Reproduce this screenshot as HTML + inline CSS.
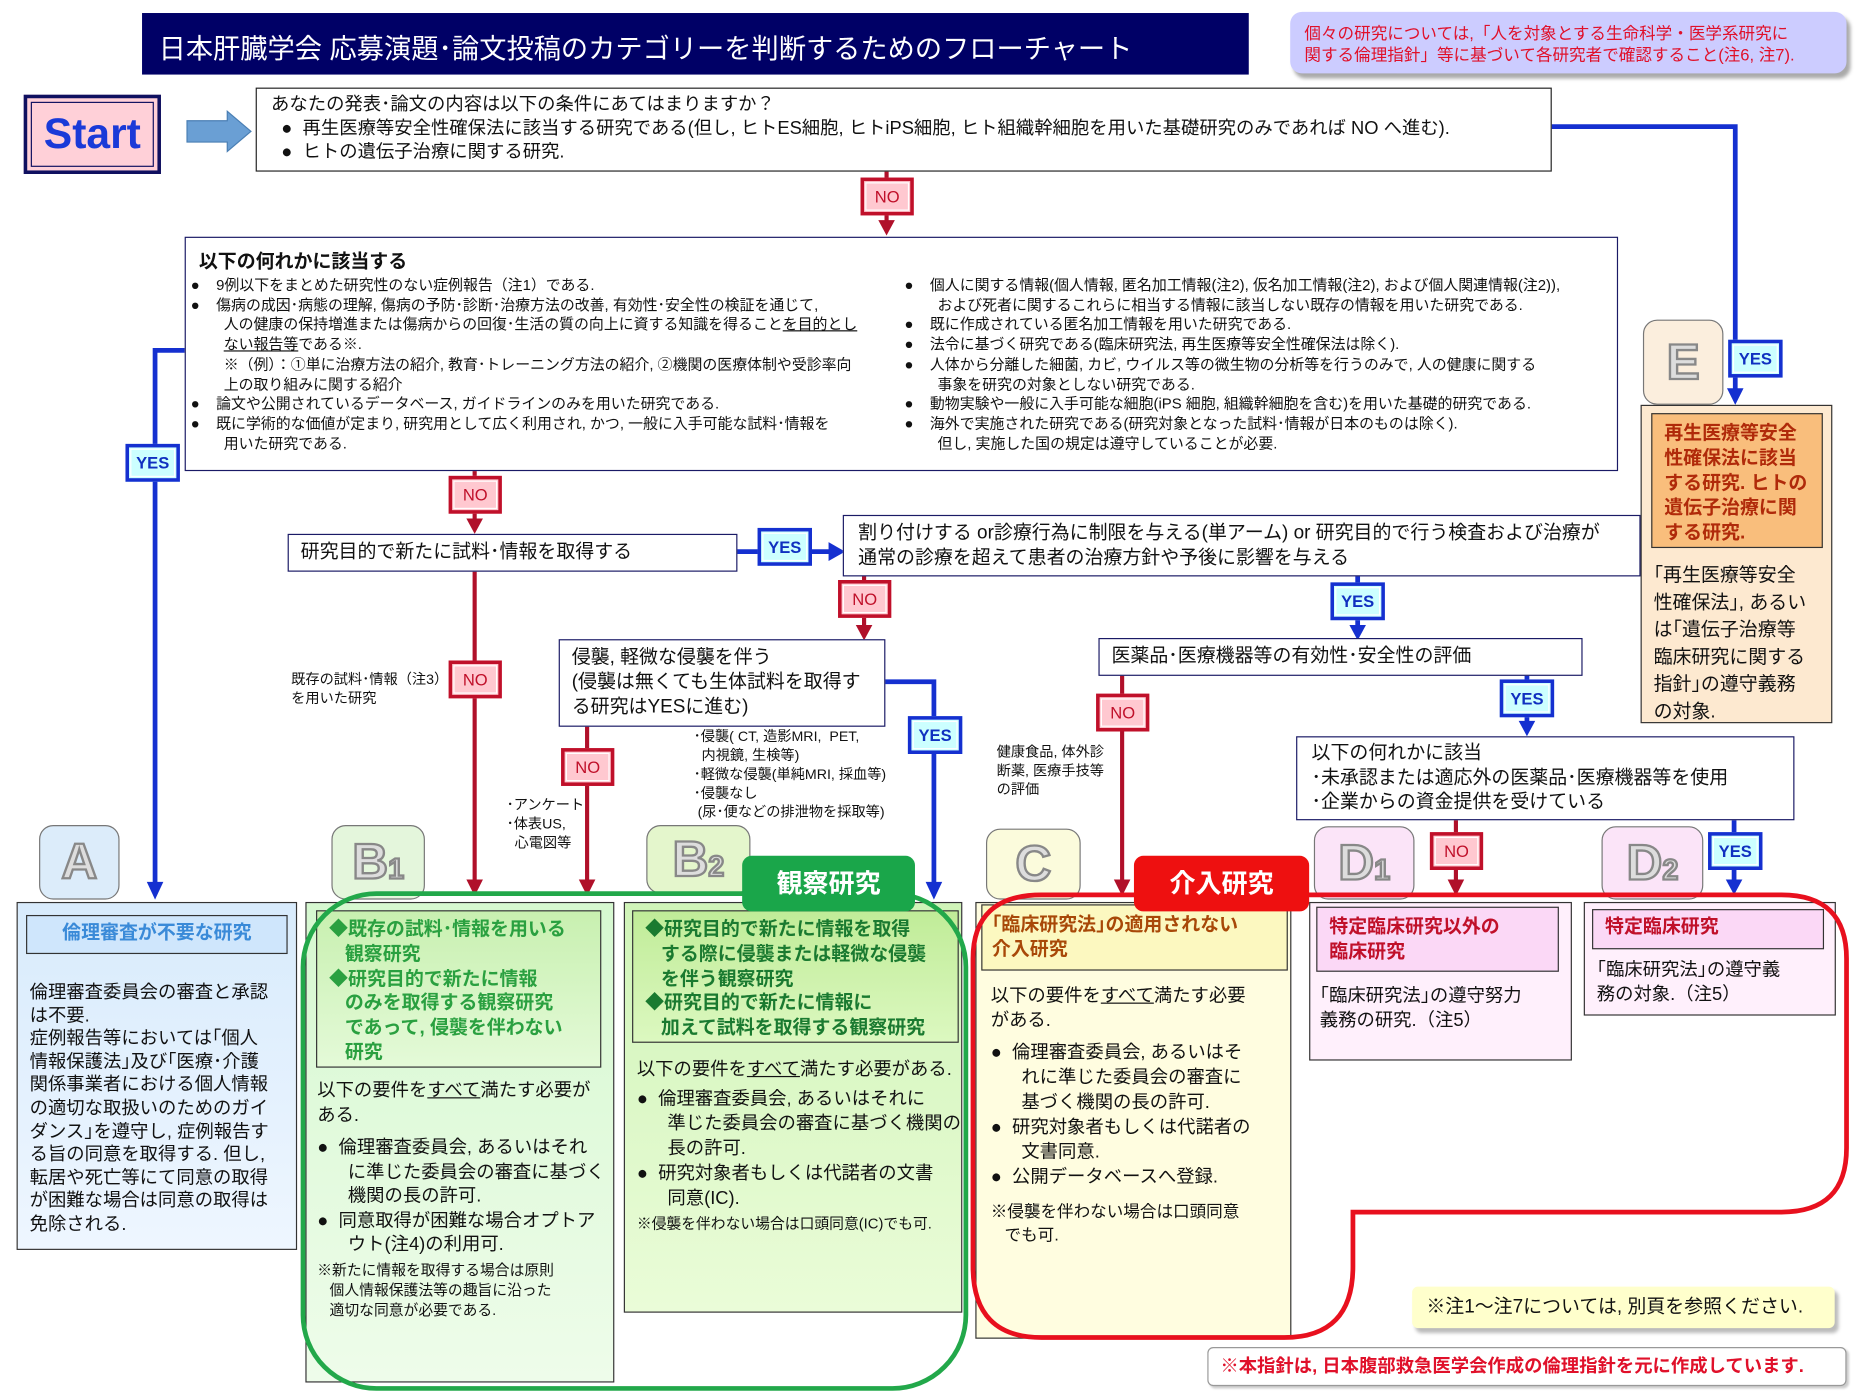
<!DOCTYPE html>
<html><head><meta charset="utf-8">
<style>
*{margin:0;padding:0;box-sizing:border-box}
html,body{width:1856px;height:1396px;overflow:hidden;background:#fff}
#w{position:absolute;left:0;top:0;width:1568px;height:1180px;transform:scale(1.18367);transform-origin:0 0;font-family:"Liberation Sans","Noto Sans CJK JP",sans-serif;color:#111}
.a{position:absolute}
.bx{position:absolute;border:1.5px solid #1a1a66;background:#fff}
.nw{white-space:nowrap}
.yes{position:absolute;width:46px;height:32px;border:3px solid #1530d0;background:#ccffff;color:#1030c0;font-weight:bold;font-size:14px;text-align:center;line-height:26px;outline:1px solid #fff;outline-offset:-5px}
.no{position:absolute;width:45px;height:32px;border:3px solid #c0102a;background:#ffc8d0;color:#c0102a;font-size:14px;text-align:center;line-height:26px;outline:1px solid #fff;outline-offset:-5px}
.let{position:absolute;border:1.5px solid #777;border-radius:12px;font-size:42px;font-weight:bold;color:#ddd;text-align:center;-webkit-text-stroke:2px #888;font-family:"Liberation Sans",sans-serif}
.t13{font-size:12.6px;line-height:16.7px}
.t16{font-size:16px;line-height:20.5px}
u{text-decoration:underline}
</style></head><body><div id="w">

<svg class="a" style="left:0;top:0" width="1568" height="1180">
<g fill="none" stroke="#1530d0" stroke-width="4">
<polyline points="1310,107 1466,107 1466,330"/>
<polyline points="156,296 131,296 131,748"/>
<polyline points="622,466 702,466"/>
<polyline points="747,576 789,576 789,748"/>
<polyline points="1147,486 1147,532"/>
<polyline points="1290,570 1290,612"/>
<polyline points="1465,692 1465,746"/>
</g>
<g fill="#1530d0">
<path d="M1459,328 L1473,328 L1466,342z"/>
<path d="M124,745 L138,745 L131,760z"/>
<path d="M700,458 L700,474 L714,466z"/>
<path d="M782,745 L796,745 L789,760z"/>
<path d="M1140,528 L1154,528 L1147,541z"/>
<path d="M1283,609 L1297,609 L1290,622z"/>
<path d="M1458,743 L1472,743 L1465,756z"/>
</g>
<g fill="none" stroke="#b0102a" stroke-width="3.5">
<line x1="749" y1="144" x2="749" y2="188"/>
<line x1="401" y1="397" x2="401" y2="440"/>
<line x1="401" y1="482" x2="401" y2="745"/>
<line x1="730" y1="486" x2="730" y2="530"/>
<line x1="496" y1="613" x2="496" y2="745"/>
<line x1="948" y1="570" x2="948" y2="745"/>
<line x1="1230" y1="692" x2="1230" y2="745"/>
</g>
<g fill="#b0102a">
<path d="M742,186 L756,186 L749,199z"/>
<path d="M394,438 L408,438 L401,451z"/>
<path d="M394,743 L408,743 L401,757z"/>
<path d="M723,528 L737,528 L730,541z"/>
<path d="M489,743 L503,743 L496,757z"/>
<path d="M941,743 L955,743 L948,757z"/>
<path d="M1223,743 L1237,743 L1230,757z"/>
</g>
<path d="M158,102 L192,102 L192,94 L212,111 L192,128 L192,120 L158,120z" fill="#6a9fd4" stroke="#4a7fb4"/>
</svg>

<div class="a nw" style="left:120px;top:11px;width:935px;height:52px;background:#000066;color:#fff;font-size:23px;padding:17px 0 0 14px;line-height:26px">日本肝臓学会 応募演題･論文投稿のカテゴリーを判断するためのフローチャート</div>
<div class="a nw" style="left:1090px;top:10px;width:470px;height:52px;background:#ccccff;border-radius:10px;box-shadow:3px 4px 3px #aaa;color:#e0102a;font-size:14px;line-height:18px;padding:9px 0 0 12px">個々の研究については,「人を対象とする生命科学・医学系研究に<br>関する倫理指針」等に基づいて各研究者で確認すること(注6, 注7).</div>

<div class="a" style="left:20px;top:80px;width:116px;height:67px;border:3px solid #101060;background:#ffd0d8;outline:1px solid #101060;outline-offset:-7px;color:#1a3ad8;font-weight:bold;font-size:36px;text-align:center;line-height:60px;font-family:'Liberation Sans',sans-serif">Start</div>

<div class="bx nw" style="left:216px;top:74px;width:1095px;height:71px;border-color:#222;font-size:15.5px;line-height:20px;padding:4px 0 0 12px">あなたの発表･論文の内容は以下の条件にあてはまりますか？<br>&nbsp;&nbsp;●&nbsp; 再生医療等安全性確保法に該当する研究である(但し, ヒトES細胞, ヒトiPS細胞, ヒト組織幹細胞を用いた基礎研究のみであれば NO へ進む).<br>&nbsp;&nbsp;●&nbsp; ヒトの遺伝子治療に関する研究.</div>
<div class="no" style="left:727px;top:150px">NO</div>

<div class="bx" style="left:156px;top:200px;width:1211px;height:198px">
<div class="a nw" style="left:11px;top:6px;font-size:16px;font-weight:bold">以下の何れかに該当する</div>
<div class="a nw t13" style="left:4px;top:32px">●&nbsp;&nbsp;&nbsp; 9例以下をまとめた研究性のない症例報告（注1）である.<br>●&nbsp;&nbsp;&nbsp; 傷病の成因･病態の理解, 傷病の予防･診断･治療方法の改善, 有効性･安全性の検証を通じて,<br>&nbsp;&nbsp;&nbsp;&nbsp;&nbsp;&nbsp;&nbsp; 人の健康の保持増進または傷病からの回復･生活の質の向上に資する知識を得ること<u>を目的とし</u><br>&nbsp;&nbsp;&nbsp;&nbsp;&nbsp;&nbsp;&nbsp; <u>ない報告等</u>である※.<br>&nbsp;&nbsp;&nbsp;&nbsp;&nbsp;&nbsp;&nbsp; ※（例）：①単に治療方法の紹介, 教育･トレーニング方法の紹介, ②機関の医療体制や受診率向<br>&nbsp;&nbsp;&nbsp;&nbsp;&nbsp;&nbsp;&nbsp; 上の取り組みに関する紹介<br>●&nbsp;&nbsp;&nbsp; 論文や公開されているデータベース, ガイドラインのみを用いた研究である.<br>●&nbsp;&nbsp;&nbsp; 既に学術的な価値が定まり, 研究用として広く利用され, かつ, 一般に入手可能な試料･情報を<br>&nbsp;&nbsp;&nbsp;&nbsp;&nbsp;&nbsp;&nbsp; 用いた研究である.</div>
<div class="a nw t13" style="left:607px;top:32px">●&nbsp;&nbsp;&nbsp; 個人に関する情報(個人情報, 匿名加工情報(注2), 仮名加工情報(注2), および個人関連情報(注2)),<br>&nbsp;&nbsp;&nbsp;&nbsp;&nbsp;&nbsp;&nbsp; および死者に関するこれらに相当する情報に該当しない既存の情報を用いた研究である.<br>●&nbsp;&nbsp;&nbsp; 既に作成されている匿名加工情報を用いた研究である.<br>●&nbsp;&nbsp;&nbsp; 法令に基づく研究である(臨床研究法, 再生医療等安全性確保法は除く).<br>●&nbsp;&nbsp;&nbsp; 人体から分離した細菌, カビ, ウイルス等の微生物の分析等を行うのみで, 人の健康に関する<br>&nbsp;&nbsp;&nbsp;&nbsp;&nbsp;&nbsp;&nbsp; 事象を研究の対象としない研究である.<br>●&nbsp;&nbsp;&nbsp; 動物実験や一般に入手可能な細胞(iPS 細胞, 組織幹細胞を含む)を用いた基礎的研究である.<br>●&nbsp;&nbsp;&nbsp; 海外で実施された研究である(研究対象となった試料･情報が日本のものは除く).<br>&nbsp;&nbsp;&nbsp;&nbsp;&nbsp;&nbsp;&nbsp; 但し, 実施した国の規定は遵守していることが必要.</div>
</div>
<div class="yes" style="left:106px;top:375px">YES</div>
<div class="no" style="left:379px;top:402px">NO</div>

<div class="bx nw t16" style="left:243px;top:451px;width:380px;height:32px;padding:5px 0 0 10px">研究目的で新たに試料･情報を取得する</div>
<div class="yes" style="left:640px;top:446px">YES</div>
<div class="bx nw t16" style="left:712px;top:435px;width:674px;height:52px;padding:4px 0 0 12px;line-height:21px">割り付けする or診療行為に制限を与える(単アーム) or 研究目的で行う検査および治療が<br>通常の診療を超えて患者の治療方針や予後に影響を与える</div>
<div class="no" style="left:708px;top:490px">NO</div>
<div class="yes" style="left:1124px;top:492px">YES</div>

<div class="a nw" style="left:246px;top:566px;font-size:12px;line-height:16px">既存の試料･情報（注3）<br>を用いた研究</div>
<div class="no" style="left:379px;top:558px">NO</div>

<div class="bx nw t16" style="left:472px;top:540px;width:276px;height:74px;padding:4px 0 0 10px;line-height:21px">侵襲, 軽微な侵襲を伴う<br>(侵襲は無くても生体試料を取得す<br>る研究はYESに進む)</div>
<div class="no" style="left:474px;top:632px">NO</div>
<div class="yes" style="left:767px;top:605px">YES</div>
<div class="a nw" style="left:428px;top:672px;font-size:12px;line-height:16px">･アンケート<br>･体表US,<br>&nbsp;&nbsp;心電図等</div>
<div class="a nw" style="left:586px;top:614px;font-size:12px;line-height:16px">･侵襲( CT, 造影MRI,&nbsp; PET,<br>&nbsp;&nbsp;内視鏡, 生検等)<br>･軽微な侵襲(単純MRI, 採血等)<br>･侵襲なし<br>&nbsp;(尿･便などの排泄物を採取等)</div>

<div class="bx nw t16" style="left:928px;top:539px;width:409px;height:32px;padding:5px 0 0 10px">医薬品･医療機器等の有効性･安全性の評価</div>
<div class="no" style="left:926px;top:586px">NO</div>
<div class="a nw" style="left:842px;top:627px;font-size:12px;line-height:16px">健康食品, 体外診<br>断薬, 医療手技等<br>の評価</div>
<div class="yes" style="left:1267px;top:574px">YES</div>
<div class="bx nw t16" style="left:1095px;top:622px;width:421px;height:71px;padding:4px 0 0 12px;line-height:20.5px">以下の何れかに該当<br>･未承認または適応外の医薬品･医療機器等を使用<br>･企業からの資金提供を受けている</div>
<div class="no" style="left:1208px;top:703px">NO</div>
<div class="yes" style="left:1443px;top:703px">YES</div>

<div class="let" style="left:1388px;top:270px;width:68px;height:72px;background:#fbeedd;line-height:70px">E</div>
<div class="yes" style="left:1460px;top:287px">YES</div>
<div class="a" style="left:1386px;top:342px;width:162px;height:269px;background:#fde9d0;border:1.5px solid #333">
<div class="a nw" style="left:8px;top:6px;width:145px;height:114px;background:#f9be7c;border:1.5px solid #333;color:#b02a0a;font-weight:bold;font-size:16px;line-height:21px;padding:6px 0 0 10px">再生医療等安全<br>性確保法に該当<br>する研究. ヒトの<br>遺伝子治療に関<br>する研究.</div>
<div class="a nw t16" style="left:10px;top:132px;line-height:23px">｢再生医療等安全<br>性確保法｣, あるい<br>は｢遺伝子治療等<br>臨床研究に関する<br>指針｣の遵守義務<br>の対象.</div>
</div>

<div class="let" style="left:33px;top:697px;width:68px;height:63px;background:#dcecfa;line-height:60px">A</div>
<div class="let" style="left:280px;top:697px;width:79px;height:63px;background:#e4f6dc;line-height:60px">B<span style="font-size:24px">1</span></div>
<div class="let" style="left:546px;top:697px;width:88px;height:58px;background:#e4f6cc;line-height:56px">B<span style="font-size:24px">2</span></div>
<div class="let" style="left:833px;top:700px;width:80px;height:60px;background:#fbfbdc;line-height:58px">C</div>
<div class="let" style="left:1110px;top:698px;width:85px;height:62px;background:#fbe4f8;line-height:60px">D<span style="font-size:24px">1</span></div>
<div class="let" style="left:1353px;top:698px;width:86px;height:62px;background:#fbe4f8;line-height:60px">D<span style="font-size:24px">2</span></div>

<div class="a" style="left:14px;top:762px;width:237px;height:294px;background:linear-gradient(#d8ebfc,#eef6ff);border:1.5px solid #333">
<div class="a nw" style="left:7px;top:10px;width:221px;height:33px;border:1.5px solid #333;background:#cfe6fc;color:#3a8ad8;font-weight:bold;font-size:16px;text-align:center;line-height:30px">倫理審査が不要な研究</div>
<div class="a nw" style="left:10px;top:66px;font-size:15.5px;line-height:19.6px">倫理審査委員会の審査と承認<br>は不要.<br>症例報告等においては｢個人<br>情報保護法｣及び｢医療･介護<br>関係事業者における個人情報<br>の適切な取扱いのためのガイ<br>ダンス｣を遵守し, 症例報告す<br>る旨の同意を取得する. 但し,<br>転居や死亡等にて同意の取得<br>が困難な場合は同意の取得は<br>免除される.</div>
</div>

<div class="a" style="left:258px;top:762px;width:261px;height:406px;background:linear-gradient(#d6f8d0,#eefcea);border:1.5px solid #333">
<div class="a nw" style="left:8px;top:6px;width:241px;height:133px;border:1.5px solid #333;background:linear-gradient(#c8f0b0,#e4fad8);color:#2aa040;font-weight:bold;font-size:16px;line-height:20.8px;padding:6px 0 0 10px">◆既存の試料･情報を用いる<br>&nbsp;&nbsp;&nbsp;観察研究<br>◆研究目的で新たに情報<br>&nbsp;&nbsp;&nbsp;のみを取得する観察研究<br>&nbsp;&nbsp;&nbsp;であって, 侵襲を伴わない<br>&nbsp;&nbsp;&nbsp;研究</div>
<div class="a nw" style="left:9px;top:148px;font-size:15.5px;line-height:21px">以下の要件を<u>すべて</u>満たす必要が<br>ある.</div>
<div class="a nw" style="left:9px;top:197px;font-size:15.5px;line-height:20.5px">●&nbsp; 倫理審査委員会, あるいはそれ<br>&nbsp;&nbsp;&nbsp;&nbsp;&nbsp; に準じた委員会の審査に基づく<br>&nbsp;&nbsp;&nbsp;&nbsp;&nbsp; 機関の長の許可.<br>●&nbsp; 同意取得が困難な場合オプトア<br>&nbsp;&nbsp;&nbsp;&nbsp;&nbsp; ウト(注4)の利用可.</div>
<div class="a nw" style="left:9px;top:302px;font-size:12.5px;line-height:17px">※新たに情報を取得する場合は原則<br>&nbsp;&nbsp;&nbsp;個人情報保護法等の趣旨に沿った<br>&nbsp;&nbsp;&nbsp;適切な同意が必要である.</div>
</div>

<div class="a" style="left:527px;top:762px;width:286px;height:347px;background:linear-gradient(#d0f4b8,#eafcd8);border:1.5px solid #333">
<div class="a nw" style="left:6px;top:6px;width:276px;height:112px;border:1.5px solid #333;background:linear-gradient(#c0ec98,#dcf8c0);color:#1a7a30;font-weight:bold;font-size:16px;line-height:20.8px;padding:6px 0 0 10px">◆研究目的で新たに情報を取得<br>&nbsp;&nbsp;&nbsp;する際に侵襲または軽微な侵襲<br>&nbsp;&nbsp;&nbsp;を伴う観察研究<br>◆研究目的で新たに情報に<br>&nbsp;&nbsp;&nbsp;加えて試料を取得する観察研究</div>
<div class="a nw" style="left:10px;top:128px;font-size:15.5px">以下の要件を<u>すべて</u>満たす必要がある.</div>
<div class="a nw" style="left:10px;top:155px;font-size:15.5px;line-height:21px">●&nbsp; 倫理審査委員会, あるいはそれに<br>&nbsp;&nbsp;&nbsp;&nbsp;&nbsp; 準じた委員会の審査に基づく機関の<br>&nbsp;&nbsp;&nbsp;&nbsp;&nbsp; 長の許可.<br>●&nbsp; 研究対象者もしくは代諾者の文書<br>&nbsp;&nbsp;&nbsp;&nbsp;&nbsp; 同意(IC).</div>
<div class="a nw" style="left:10px;top:260px;font-size:12.5px">※侵襲を伴わない場合は口頭同意(IC)でも可.</div>
</div>

<div class="a" style="left:824px;top:762px;width:267px;height:369px;background:#fffde0;border:1.5px solid #333">
<div class="a nw" style="left:4px;top:1px;width:259px;height:56px;border:1.5px solid #333;background:#fcf8c0;color:#a84808;font-weight:bold;font-size:16px;line-height:21px;padding:6px 0 0 8px">｢臨床研究法｣の適用されない<br>介入研究</div>
<div class="a nw" style="left:12px;top:68px;font-size:15.5px;line-height:21px">以下の要件を<u>すべて</u>満たす必要<br>がある.</div>
<div class="a nw" style="left:12px;top:116px;font-size:15.5px;line-height:21px">●&nbsp; 倫理審査委員会, あるいはそ<br>&nbsp;&nbsp;&nbsp;&nbsp;&nbsp; れに準じた委員会の審査に<br>&nbsp;&nbsp;&nbsp;&nbsp;&nbsp; 基づく機関の長の許可.<br>●&nbsp; 研究対象者もしくは代諾者の<br>&nbsp;&nbsp;&nbsp;&nbsp;&nbsp; 文書同意.<br>●&nbsp; 公開データベースへ登録.</div>
<div class="a nw" style="left:12px;top:250px;font-size:14px;line-height:20px">※侵襲を伴わない場合は口頭同意<br>&nbsp;&nbsp;&nbsp;でも可.</div>
</div>

<div class="a" style="left:1106px;top:762px;width:222px;height:134px;background:#fff0fc;border:1.5px solid #333">
<div class="a nw" style="left:5px;top:3px;width:205px;height:55px;border:1.5px solid #333;background:#fbd8f6;color:#c0102a;font-weight:bold;font-size:16px;line-height:21px;padding:6px 0 0 10px">特定臨床研究以外の<br>臨床研究</div>
<div class="a nw" style="left:8px;top:68px;font-size:15.5px;line-height:21px">｢臨床研究法｣の遵守努力<br>義務の研究.（注5）</div>
</div>
<div class="a" style="left:1338px;top:762px;width:213px;height:96px;background:#fff0fc;border:1.5px solid #333">
<div class="a nw" style="left:6px;top:5px;width:196px;height:34px;border:1.5px solid #333;background:#fbd8f6;color:#c0102a;font-weight:bold;font-size:16px;line-height:30px;padding-left:10px">特定臨床研究</div>
<div class="a nw" style="left:10px;top:46px;font-size:15.5px;line-height:21px">｢臨床研究法｣の遵守義<br>務の対象.（注5）</div>
</div>

<svg class="a" style="left:0;top:0" width="1568" height="1180">
<rect x="256" y="755" width="560" height="418" rx="62" fill="none" stroke="#22a84a" stroke-width="4"/>
<path d="M960,756 L1505,756 Q1560,756 1560,810 L1560,970 Q1560,1024 1505,1024 L1143,1024 L1143,1070 Q1143,1130 1085,1130 L880,1130 Q822,1130 822,1070 L822,810 Q822,756 880,756 Z" fill="none" stroke="#e8101e" stroke-width="4"/>
</svg>
<div class="a nw" style="left:627px;top:723px;width:146px;height:47px;background:#1aa64a;border-radius:8px;color:#fff;font-weight:bold;font-size:22px;text-align:center;line-height:47px">観察研究</div>
<div class="a nw" style="left:958px;top:723px;width:148px;height:47px;background:#ee1010;border-radius:8px;color:#fff;font-weight:bold;font-size:22px;text-align:center;line-height:47px">介入研究</div>

<div class="a nw" style="left:1193px;top:1087px;width:357px;height:35px;background:#ffffcc;border-radius:5px;box-shadow:3px 4px 3px #bbb;font-size:16px;line-height:35px;padding-left:12px">※注1～注7については, 別頁を参照ください.</div>
<div class="a nw" style="left:1020px;top:1138px;width:540px;height:33px;background:#fff;border:1.5px solid #999;border-radius:5px;box-shadow:2px 2px 2px #ccc;color:#e0102a;font-weight:bold;font-size:15.5px;line-height:31px;padding-left:10px">※本指針は, 日本腹部救急医学会作成の倫理指針を元に作成しています.</div>

</div></body></html>
